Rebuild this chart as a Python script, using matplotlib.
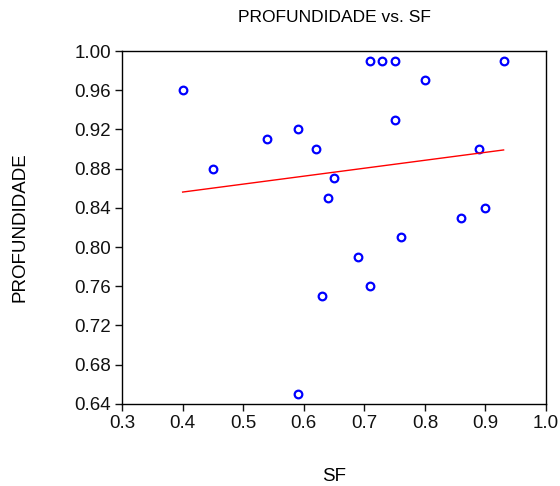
import matplotlib
matplotlib.use('Agg')
import matplotlib.pyplot as plt
import numpy as np

plt.rcParams['font.family'] = ['Liberation Sans', 'DejaVu Sans']

# 数据：SF 与 PROFUNDIDADE
sf = [0.40, 0.45, 0.54, 0.59, 0.62, 0.65, 0.64, 0.71, 0.73, 0.75, 0.75,
      0.80, 0.93, 0.89, 0.86, 0.90, 0.76, 0.69, 0.71, 0.63, 0.59]
profundidade = [0.96, 0.88, 0.91, 0.92, 0.90, 0.87, 0.85, 0.99, 0.99, 0.99, 0.93,
                0.97, 0.99, 0.90, 0.83, 0.84, 0.81, 0.79, 0.76, 0.75, 0.65]
xticks = [0.3, 0.4, 0.5, 0.6, 0.7, 0.8, 0.9, 1.0]
yticks = [0.64, 0.68, 0.72, 0.76, 0.80, 0.84, 0.88, 0.92, 0.96, 1.00]

x = np.array(sf)
y = np.array(profundidade)

fig = plt.figure(figsize=(5.6, 4.86), dpi=100)
ax = fig.add_axes([0.218, 0.169, 0.757, 0.726])

ax.plot(x, y, 'o', markerfacecolor='none', markeredgecolor='#0000ff',
        markersize=5.5, markeredgewidth=1.6, linestyle='none')

# 回归线
k, b = np.polyfit(x, y, 1)
xl = np.array([x.min(), x.max()])
ax.plot(xl, k * xl + b, color='#ff0000', linewidth=1)

ax.set_xlim(0.3, 1.0)
ax.set_ylim(0.64, 1.00)
ax.set_xticks(xticks)
ax.set_xticklabels(['%.1f' % v for v in xticks])
ax.set_yticks(yticks)
ax.set_yticklabels(['%.2f' % v for v in yticks])
ax.tick_params(direction='out', length=5, width=1, labelsize=13.5, pad=3,
               colors='#111111')

for s in ax.spines.values():
    s.set_linewidth(1)

ax.set_title('PROFUNDIDADE vs. SF', fontsize=12.5, pad=21)
ax.set_xlabel('SF', fontsize=13.5, labelpad=26)
ax.set_ylabel('PROFUNDIDADE', fontsize=13.5, labelpad=33)

fig.savefig('out.png', dpi=100)
